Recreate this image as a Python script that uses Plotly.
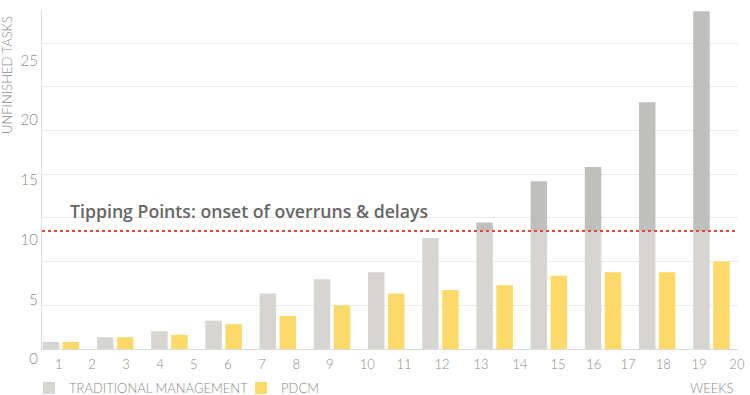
import plotly.graph_objects as go

# ---- data ----
groups = list(range(1, 14))
traditional = [0.6, 1.0, 1.5, 2.4, 4.7, 5.9, 6.5, 9.4, 10.7, 14.2, 15.4, 20.9, 28.6]
pdcm = [0.6, 1.0, 1.2, 2.1, 2.8, 3.7, 4.7, 5.0, 5.4, 6.2, 6.5, 6.5, 7.4]
tipping_point = 10
week_labels = [str(i) for i in range(1, 21)]
week_tick_pos = [0.96, 1.57, 2.20, 2.83, 3.45, 4.08, 4.71, 5.34, 5.96, 6.65,
                 7.33, 8.03, 8.75, 9.47, 10.17, 10.83, 11.46, 12.11, 12.77, 13.47]
y_tick_vals = [0, 5, 10, 15, 20, 25]

# ---- styles ----
FONT = "Lato"
LIGHT_GREY = "#d6d5d1"
DARK_GREY = "#bfbfbd"
YELLOW = "#fcd968"
TEXT_GREY = "#8a8a8a"
TICK_FONT = dict(family=FONT, size=13, color=TEXT_GREY, weight=300)

below = [min(v, tipping_point) for v in traditional]
above = [max(v - tipping_point, 0) for v in traditional]

fig = go.Figure()
fig.add_trace(go.Bar(x=groups, y=below, name="TRADITIONAL MANAGEMENT", legend="legend",
                     marker=dict(color=LIGHT_GREY, line=dict(width=0)),
                     offsetgroup="trad", hoverinfo="skip"))
fig.add_trace(go.Bar(x=groups, y=above, base=tipping_point, showlegend=False,
                     marker=dict(color=DARK_GREY, line=dict(width=0)),
                     offsetgroup="trad", hoverinfo="skip"))
fig.add_trace(go.Bar(x=groups, y=pdcm, name="PDCM", legend="legend2",
                     marker=dict(color=YELLOW, line=dict(width=0)),
                     offsetgroup="pdcm", hoverinfo="skip"))
# carrier for the label axis
fig.add_trace(go.Scatter(x=[], y=[], yaxis="y2", showlegend=False, hoverinfo="skip"))

fig.add_shape(type="line", xref="paper", x0=0, x1=1, yref="y", y0=tipping_point, y1=tipping_point,
              line=dict(color="#e8453c", width=2, dash="dot"), layer="above")

fig.add_annotation(text="Tipping Points: onset of overruns & delays", xref="paper", x=0.0375,
                   xanchor="left", yref="y", y=tipping_point, yshift=20, yanchor="middle",
                   showarrow=False, font=dict(family="Open Sans", size=17.7, color="#666666", weight=600))
fig.add_annotation(text="UNFINISHED TASKS", textangle=-90, xref="paper", x=0, xshift=-35,
                   xanchor="center", yref="paper", y=1, yanchor="top", yshift=-4,
                   showarrow=False, font=TICK_FONT)
fig.add_annotation(text="WEEKS", xref="paper", x=1, xanchor="right", xshift=-2,
                   yref="paper", y=-0.0831, yanchor="middle",
                   showarrow=False, font=TICK_FONT)

legend_common = dict(orientation="h", xanchor="left", yref="container", y=7 / 395,
                     yanchor="middle", font=TICK_FONT, bgcolor="rgba(0,0,0,0)",
                     itemclick=False, itemdoubleclick=False)

fig.update_layout(
    width=750, height=395,
    margin=dict(l=42, r=12, t=10, b=36, autoexpand=False),
    paper_bgcolor="white", plot_bgcolor="rgba(0,0,0,0)",
    barmode="group", bargap=0.262, bargroupgap=0.175,
    font=dict(family=FONT, color=TEXT_GREY),
    showlegend=True,
    legend=dict(x=-0.0187, **legend_common),
    legend2=dict(x=0.286, **legend_common),
    xaxis=dict(range=[0.6494, 13.49], tickvals=week_tick_pos, ticktext=week_labels,
               showgrid=False, zeroline=False, showline=True, linecolor="#dcdcdc", linewidth=1,
               ticks="", ticklabelstandoff=3, automargin=False, tickfont=TICK_FONT),
    yaxis=dict(domain=[10 / 349, 1], range=[0, 28.7], dtick=3.7, tick0=0, showticklabels=False,
               showgrid=True, gridcolor="#ebebeb", zeroline=False, showline=True,
               linecolor="#dcdcdc", linewidth=1, ticks="", automargin=False),
    yaxis2=dict(domain=[0, 1 - 10 / 349], range=[0, 28.37], anchor="x", side="left",
                tickvals=y_tick_vals, showgrid=False, zeroline=False, showline=False, ticks="",
                ticklabelstandoff=3, automargin=False,
                tickfont=dict(family=FONT, size=15, color=TEXT_GREY, weight=300)),
)

fig.write_html("out.html", config={"displayModeBar": False},
               post_script="document.body.style.margin='0';")
